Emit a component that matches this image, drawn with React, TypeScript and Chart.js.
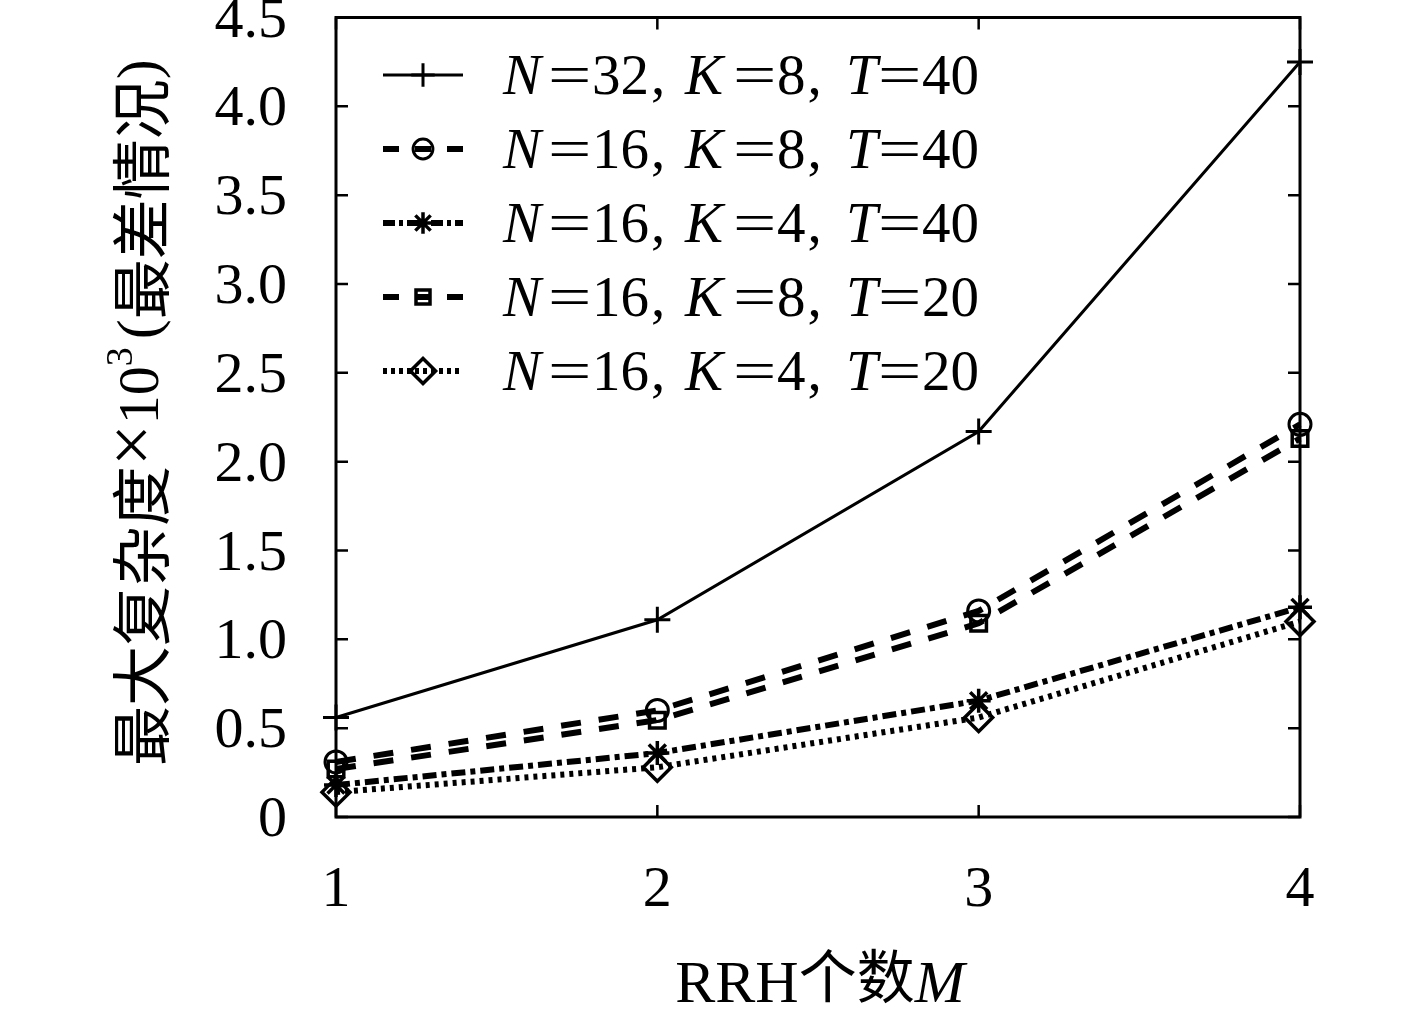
import { useEffect, useRef } from 'react';
import Chart from 'chart.js/auto';
import { drawPoint } from 'chart.js/helpers';

// RRH 个数 M
const rrhCounts = [1, 2, 3, 4];

// 最大复杂度 ×10^3（最差情况）
const n32k8t40 = [0.56, 1.11, 2.17, 4.25];
const n16k8t40 = [0.31, 0.6, 1.16, 2.21];
const n16k4t40 = [0.18, 0.36, 0.655, 1.18];
const n16k8t20 = [0.27, 0.545, 1.09, 2.13];
const n16k4t20 = [0.14, 0.28, 0.56, 1.1];

const yTickValues = [0, 0.5, 1, 1.5, 2, 2.5, 3, 3.5, 4, 4.5];
const yTickLabels = ['0', '0.5', '1.0', '1.5', '2.0', '2.5', '3.0', '3.5', '4.0', '4.5'];

// legend: [N, K, T]
const legendParams = [
    ['32', '8', '40'],
    ['16', '8', '40'],
    ['16', '4', '40'],
    ['16', '8', '20'],
    ['16', '4', '20'],
];

const SERIF = '"Liberation Serif", "DejaVu Serif", serif';
const CJK = '"Noto Sans CJK SC", sans-serif';

// sample dash patterns in the legend box
const legendDash = [[], [16, 16], [12, 4, 4, 4], [16, 16], [4, 4]];

const framePlugin = {
    id: 'frame',
    beforeDatasetsDraw(chart: any) {
        const { ctx, chartArea: a, scales } = chart;
        ctx.save();
        ctx.strokeStyle = '#000';
        ctx.lineWidth = 3;
        ctx.strokeRect(a.left, a.top, a.right - a.left, a.bottom - a.top);
        ctx.lineWidth = 2.5;
        ctx.beginPath();
        yTickValues.forEach((v) => {
            const y = scales.y.getPixelForValue(v);
            ctx.moveTo(a.left, y);
            ctx.lineTo(a.left + 12, y);
            ctx.moveTo(a.right, y);
            ctx.lineTo(a.right - 12, y);
        });
        rrhCounts.forEach((v) => {
            const x = scales.x.getPixelForValue(v);
            ctx.moveTo(x, a.bottom);
            ctx.lineTo(x, a.bottom - 12);
            ctx.moveTo(x, a.top);
            ctx.lineTo(x, a.top + 12);
        });
        ctx.stroke();

        // tick labels
        ctx.fillStyle = '#000';
        ctx.font = `58px ${SERIF}`;
        ctx.textBaseline = 'alphabetic';
        ctx.textAlign = 'right';
        yTickValues.forEach((v, i) => {
            ctx.fillText(yTickLabels[i], a.left - 49, scales.y.getPixelForValue(v) + 19);
        });
        ctx.textAlign = 'center';
        rrhCounts.forEach((v) => {
            ctx.fillText(String(v), scales.x.getPixelForValue(v), a.bottom + 89);
        });
        ctx.restore();
    },
};

const texPlugin = {
    id: 'texText',
    afterDraw(chart: any) {
        const ctx: CanvasRenderingContext2D = chart.ctx;
        ctx.save();
        ctx.fillStyle = '#000';
        ctx.textBaseline = 'alphabetic';
        ctx.textAlign = 'left';

        // legend
        chart.data.datasets.forEach((ds: any, i: number) => {
            const cy = 75 + i * 74;
            ctx.strokeStyle = '#000';
            ctx.lineWidth = ds.borderWidth;
            ctx.setLineDash(legendDash[i]);
            ctx.beginPath();
            ctx.moveTo(383, cy);
            ctx.lineTo(463, cy);
            ctx.stroke();
            ctx.setLineDash([]);
            ctx.lineWidth = ds.pointBorderWidth;
            ctx.fillStyle = 'rgba(0,0,0,0)';
            drawPoint(ctx, {
                pointStyle: ds.pointStyle,
                radius: ds.pointRadius * 0.9,
                rotation: 0,
                borderWidth: ds.pointBorderWidth,
            } as any, 423, cy);
            ctx.fillStyle = '#000';

            const [n, k, t] = legendParams[i];
            const base = cy + 19;
            const it = `italic 57px ${SERIF}`;
            const rm = `57px ${SERIF}`;
            const eq = (x: number) => {
                ctx.save();
                ctx.font = rm;
                ctx.translate(x, base);
                ctx.scale(1.35, 1);
                ctx.fillText('=', 0, 0);
                ctx.restore();
            };
            const word = (s: string, f: string, x: number) => {
                ctx.font = f;
                ctx.fillText(s, x, base);
                return x + ctx.measureText(s).width;
            };
            word('N', it, 503);
            eq(548);
            word(',', rm, word(n, rm, 592) + 2);
            word('K', it, 685);
            eq(733);
            word(',', rm, word(k, rm, 777) + 2);
            word('T', it, 846);
            eq(878);
            word(t, rm, 922);
        });

        // y-axis title, rotated
        ctx.save();
        ctx.translate(158, 766);
        ctx.rotate(-Math.PI / 2);
        let x = 0;
        const put = (s: string, f: string, dy = 0, gap = 0) => {
            ctx.font = f;
            ctx.fillText(s, x, dy);
            x += ctx.measureText(s).width + gap;
        };
        put('最大复杂度', `60px ${CJK}`, 6);
        put('×', `74px ${SERIF}`, -2);
        put('10', `58px ${SERIF}`);
        put('3', `38px ${SERIF}`, -26, 8);
        put('(', `60px ${SERIF}`);
        put('最差情况', `60px ${CJK}`, 6);
        put(')', `60px ${SERIF}`);
        ctx.restore();

        // x-axis title
        const pieces: [string, string][] = [
            ['RRH', `60px ${SERIF}`],
            ['个数', `58px ${CJK}`],
            ['M', `italic 60px ${SERIF}`],
        ];
        let total = 0;
        pieces.forEach(([s, f]) => {
            ctx.font = f;
            total += ctx.measureText(s).width;
        });
        let px = 820 - total / 2;
        pieces.forEach(([s, f]) => {
            ctx.font = f;
            ctx.fillText(s, px, f.includes('CJK') ? 998 : 1002);
            px += ctx.measureText(s).width;
        });
        ctx.restore();
    },
};

export default function App() {
    const canvasRef = useRef<HTMLCanvasElement | null>(null);
    const chartRef = useRef<Chart | null>(null);

    useEffect(() => {
        document.body.style.margin = '0';
        const canvas = canvasRef.current;
        if (!canvas) return;

        const toPts = (vals: number[]) => vals.map((v, i) => ({ x: rrhCounts[i], y: v }));

        const common = {
            borderColor: '#000',
            pointBorderColor: '#000',
            pointBackgroundColor: 'rgba(0,0,0,0)',
            backgroundColor: 'rgba(0,0,0,0)',
            fill: false,
            tension: 0,
            clip: false as const,
        };

        chartRef.current = new Chart(canvas, {
            type: 'line',
            data: {
                datasets: [
                    {
                        ...common,
                        label: 'N=32, K=8, T=40',
                        data: toPts(n32k8t40),
                        borderWidth: 3,
                        pointStyle: 'cross',
                        pointRadius: 13,
                        pointBorderWidth: 3,
                    },
                    {
                        ...common,
                        label: 'N=16, K=8, T=40',
                        data: toPts(n16k8t40),
                        borderWidth: 6,
                        borderDash: [20, 18],
                        pointStyle: 'circle',
                        pointRadius: 11,
                        pointBorderWidth: 3,
                    },
                    {
                        ...common,
                        label: 'N=16, K=4, T=40',
                        data: toPts(n16k4t40),
                        borderWidth: 6,
                        borderDash: [14, 5, 5, 5],
                        pointStyle: 'star',
                        pointRadius: 12,
                        pointBorderWidth: 3.5,
                    },
                    {
                        ...common,
                        label: 'N=16, K=8, T=20',
                        data: toPts(n16k8t20),
                        borderWidth: 6,
                        borderDash: [20, 18],
                        pointStyle: 'rect',
                        pointRadius: 11,
                        pointBorderWidth: 3.5,
                    },
                    {
                        ...common,
                        label: 'N=16, K=4, T=20',
                        data: toPts(n16k4t20),
                        borderWidth: 6,
                        borderDash: [4, 5],
                        pointStyle: 'rectRot',
                        pointRadius: 14,
                        pointBorderWidth: 3.5,
                    },
                ],
            },
            options: {
                responsive: true,
                maintainAspectRatio: false,
                animation: false,
                devicePixelRatio: 1,
                layout: { padding: { top: 14, right: 117, left: 0, bottom: 0 } },
                plugins: {
                    legend: { display: false },
                    tooltip: { enabled: false },
                },
                scales: {
                    x: {
                        type: 'linear',
                        min: 1,
                        max: 4,
                        afterBuildTicks: (s: any) => {
                            s.ticks = rrhCounts.map((v) => ({ value: v }));
                        },
                        afterFit: (s: any) => {
                            s.height = 193;
                        },
                        ticks: { display: false },
                        grid: { display: false, drawTicks: false },
                        border: { display: false },
                    },
                    y: {
                        type: 'linear',
                        min: 0,
                        max: 4.5,
                        afterBuildTicks: (s: any) => {
                            s.ticks = yTickValues.map((v) => ({ value: v }));
                        },
                        afterFit: (s: any) => {
                            s.width = 336;
                        },
                        ticks: { display: false },
                        grid: { display: false, drawTicks: false },
                        border: { display: false },
                    },
                },
            },
            plugins: [framePlugin, texPlugin],
        });

        return () => {
            if (chartRef.current) {
                chartRef.current.destroy();
                chartRef.current = null;
            }
        };
    }, []);

    return (
        <div style={{ position: 'relative', width: 1417, height: 1010, background: '#fff' }}>
            <canvas ref={canvasRef} />
        </div>
    );
}
